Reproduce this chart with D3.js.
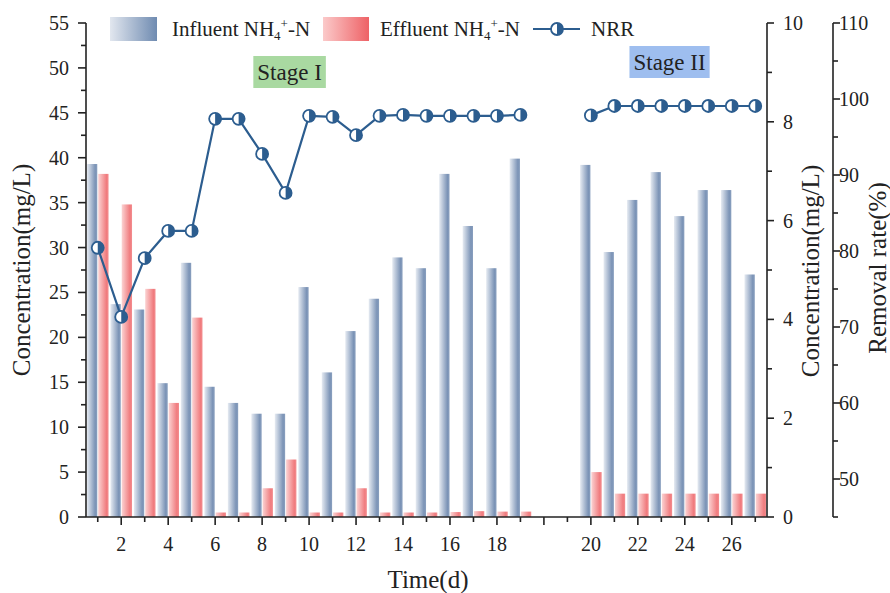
<!DOCTYPE html>
<html><head><meta charset="utf-8">
<script src="https://cdn.jsdelivr.net/npm/d3@7"></script>
<style>body{margin:0;background:#fff}svg{display:block}text{font-family:"Liberation Serif","Times New Roman",serif;fill:#222}</style>
</head><body><svg id="c" width="890" height="593"></svg>
<script>
// slot labels (two empty slots separate Stage I and Stage II)
const slots = ["1","2","3","4","5","6","7","8","9","10","11","12","13","14","15","16","17","18","19",null,null,"20","21","22","23","24","25","26","27"];
const influent = [39.3,23.7,23.1,14.9,28.3,14.5,12.7,11.5,11.5,25.6,16.1,20.7,24.3,28.9,27.7,38.2,32.4,27.7,39.9,null,null,39.2,29.5,35.3,38.4,33.5,36.4,36.4,27.0];
const effluent = [38.2,34.8,25.4,12.7,22.2,0.5,0.5,3.2,6.4,0.5,0.5,3.2,0.5,0.5,0.5,0.55,0.65,0.6,0.6,null,null,5.0,2.6,2.6,2.6,2.6,2.6,2.6,2.6];
const nrr = [5.45,4.05,5.24,5.79,5.79,8.06,8.06,7.35,6.56,8.12,8.10,7.73,8.12,8.14,8.12,8.12,8.12,8.12,8.14,null,null,8.13,8.32,8.32,8.32,8.32,8.32,8.32,8.32];
const leftTicks = d3.range(0, 55.01, 2.5);
const right1Ticks = d3.range(0, 10.01, 1);
const right2Ticks = d3.range(45, 110.01, 5);
const stages = [{label:"Stage I", slot:9.17, y:56, fill:"#a9d9a1"},{label:"Stage II", slot:25.35, y:46, fill:"#9ebeef"}];

const svg = d3.select("#c");
const L = 86, R = 767, T = 23, B = 517;
const x = d3.scaleLinear().domain([0.5, 29.5]).range([L, R]);
const yL = d3.scaleLinear().domain([0, 55]).range([B, T]);
const yR1 = d3.scaleLinear().domain([0, 10]).range([B, T]);
const yR2 = d3.scaleLinear().domain([45, 110]).range([B, T]);
const lineColor = "#2c5d8f";

const defs = svg.append("defs");
function grad(id, stops){
  const g = defs.append("linearGradient").attr("id", id).attr("x1","0").attr("x2","1").attr("y1","0").attr("y2","0");
  stops.forEach(s => g.append("stop").attr("offset", s[0]).attr("stop-color", s[1]));
}
grad("gb", [["0%","#e6ebf2"],["80%","#7b93b6"],["100%","#8aa0bf"]]);
grad("gr", [["0%","#fbd3d3"],["80%","#f07b7e"],["100%","#f38e90"]]);
grad("gbl", [["0%","#e2e7ef"],["100%","#6f8bb1"]]);
grad("grl", [["0%","#fbcaca"],["100%","#ee6266"]]);

const idx = slots.map((s,i)=>i+1);
const bw = (x(1)-x(0))*0.44, gap = (x(1)-x(0))*0.02;

// bars
svg.append("g").selectAll("rect").data(idx.filter(i=>influent[i-1]!=null)).join("rect")
  .attr("x", i=>x(i)-gap-bw).attr("width", bw)
  .attr("y", i=>yL(influent[i-1])).attr("height", i=>B-yL(influent[i-1]))
  .attr("fill","url(#gb)");
svg.append("g").selectAll("rect").data(idx.filter(i=>effluent[i-1]!=null)).join("rect")
  .attr("x", i=>x(i)+gap).attr("width", bw)
  .attr("y", i=>yL(effluent[i-1])).attr("height", i=>B-yL(effluent[i-1]))
  .attr("fill","url(#gr)");

// axes
const ax = svg.append("g").attr("stroke","#222").attr("stroke-width",1.6).attr("fill","none");
ax.append("line").attr("x1",L).attr("x2",L).attr("y1",T).attr("y2",B);
ax.append("line").attr("x1",L).attr("x2",R).attr("y1",B).attr("y2",B);
ax.append("line").attr("x1",R).attr("x2",R).attr("y1",T).attr("y2",B);
const R2 = 833;
ax.append("line").attr("x1",R2).attr("x2",R2).attr("y1",T).attr("y2",B);

const fs = 20;
// left axis
leftTicks.forEach(v=>{
  const major = Math.abs(v%5)<1e-6;
  ax.append("line").attr("x1",L).attr("x2",L-(major?8:5)).attr("y1",yL(v)).attr("y2",yL(v));
  if(major) svg.append("text").attr("x",L-17).attr("y",yL(v)+7).attr("text-anchor","end").attr("font-size",fs).text(v);
});
// right axis 1
right1Ticks.forEach(v=>{
  const major = v%2===0;
  ax.append("line").attr("x1",R).attr("x2",R+(major?7:5)).attr("y1",yR1(v)).attr("y2",yR1(v));
  if(major) svg.append("text").attr("x",R+16).attr("y",yR1(v)+7).attr("font-size",fs).text(v);
});
// right axis 2
right2Ticks.forEach(v=>{
  const major = v%10===0;
  ax.append("line").attr("x1",R2).attr("x2",R2+(major?7:5)).attr("y1",yR2(v)).attr("y2",yR2(v));
  if(major) svg.append("text").attr("x",R2+6).attr("y",yR2(v)+7).attr("font-size",fs).text(v);
});
// bottom axis
idx.forEach(i=>{
  const major = i%2===0;
  ax.append("line").attr("x1",x(i)).attr("x2",x(i)).attr("y1",B).attr("y2",B+(major?8:5));
  if(major && slots[i-1]) svg.append("text").attr("x",x(i)).attr("y",551).attr("text-anchor","middle").attr("font-size",fs).text(slots[i-1]);
});

// titles
svg.append("text").attr("x",428).attr("y",588).attr("text-anchor","middle").attr("font-size",25).text("Time(d)");
svg.append("text").attr("transform","translate(30,270) rotate(-90)").attr("text-anchor","middle").attr("font-size",25).text("Concentration(mg/L)");
svg.append("text").attr("transform","translate(819,271) rotate(-90)").attr("text-anchor","middle").attr("font-size",25).text("Concentration(mg/L)");
svg.append("text").attr("transform","translate(886,268) rotate(-90)").attr("text-anchor","middle").attr("font-size",25).text("Removal rate(%)");

// NRR line
const line = d3.line().defined(i=>nrr[i-1]!=null).x(i=>x(i)).y(i=>yR1(nrr[i-1]));
svg.append("path").attr("d", line(idx)).attr("fill","none").attr("stroke",lineColor).attr("stroke-width",2.2);
function marker(g, cx, cy){
  const r = 6;
  g.append("circle").attr("cx",cx).attr("cy",cy).attr("r",r).attr("fill","#fff").attr("stroke",lineColor).attr("stroke-width",1.8);
  g.append("path").attr("d",`M${cx},${cy-r}A${r},${r} 0 0 1 ${cx},${cy+r}Z`).attr("fill",lineColor);
}
const mg = svg.append("g");
idx.filter(i=>nrr[i-1]!=null).forEach(i=>marker(mg, x(i), yR1(nrr[i-1])));

// stage labels
stages.forEach(s=>{
  const cx = x(s.slot);
  const t = svg.append("text").attr("x",cx).attr("y",s.y+24).attr("text-anchor","middle").attr("font-size",23).text(s.label);
  const bb = t.node().getBBox();
  svg.insert("rect", () => t.node()).attr("x",bb.x-4).attr("y",s.y).attr("width",bb.width+8).attr("height",32).attr("fill",s.fill);
});

// legend
const lg = svg.append("g");
lg.append("rect").attr("x",110).attr("y",17).attr("width",47).attr("height",24).attr("fill","url(#gbl)");
lg.append("rect").attr("x",323).attr("y",17).attr("width",46).attr("height",24).attr("fill","url(#grl)");
function nh(tx, label){
  const t = lg.append("text").attr("x",tx).attr("y",36).attr("font-size",21);
  t.append("tspan").text(label+" NH");
  t.append("tspan").attr("font-size",13).attr("dy",4).text("4");
  t.append("tspan").attr("font-size",13).attr("dy",-12).text("+");
  t.append("tspan").attr("dy",8).text("-N");
}
nh(172, "Influent");
nh(380, "Effluent");
lg.append("line").attr("x1",533).attr("x2",580).attr("y1",29).attr("y2",29).attr("stroke",lineColor).attr("stroke-width",2.2);
marker(lg, 557, 29);
lg.append("text").attr("x",591).attr("y",36).attr("font-size",21).text("NRR");
</script></body></html>
